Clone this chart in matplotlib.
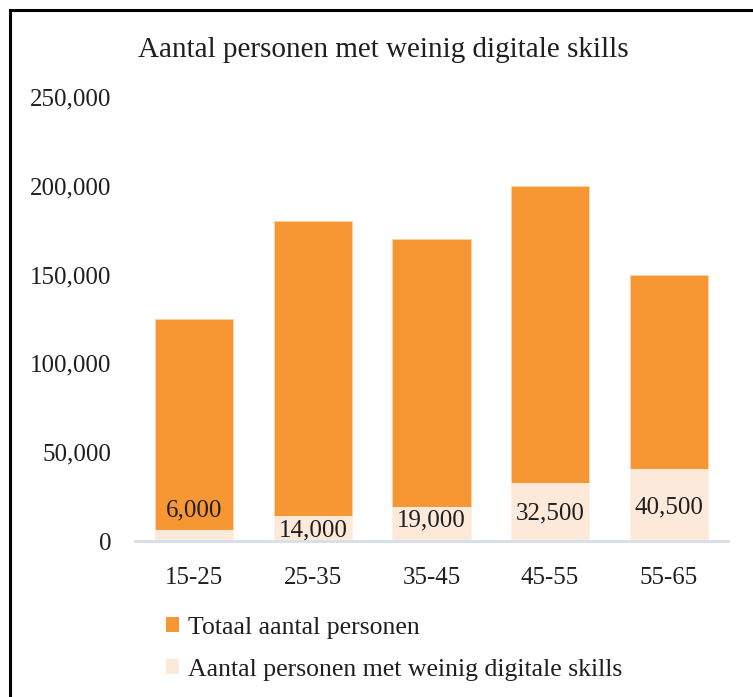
import matplotlib
matplotlib.use("Agg")
import matplotlib.pyplot as plt
from matplotlib.patches import Rectangle, Patch
from matplotlib.ticker import FuncFormatter

categories = ["15-25", "25-35", "35-45", "45-55", "55-65"]
totaal = [125000, 180000, 170000, 200000, 150000]
weinig = [6000, 14000, 19000, 32500, 40500]
yticks = [0, 50000, 100000, 150000, 200000, 250000]
title = "Aantal personen met weinig digitale skills"
legend_labels = ["Totaal aantal personen", "Aantal personen met weinig digitale skills"]

# label vertical positions (data units) as placed in the reference
label_y = [17400, 6200, 11800, 15700, 19100]

ORANGE = "#F79733"
LIGHT = "#FDE9D9"
FONT = "Liberation Serif"
TXT = "#1f1f1f"

plt.rcParams["font.family"] = [FONT, "DejaVu Serif"]

fig = plt.figure(figsize=(7.53, 6.97), dpi=100)
ax = fig.add_axes([135/753, 156/697, 593/753, 444/697])

x = range(len(categories))
ax.bar(x, totaal, width=0.66, color=ORANGE, edgecolor="#FBD3A8", linewidth=0.6, zorder=2)
ax.bar(x, weinig, width=0.66, color=LIGHT, edgecolor="#FFF4EC", linewidth=0.6, zorder=3)

for xi, v, ly in zip(x, weinig, label_y):
    ax.text(xi, ly, f"{v:,}", ha="center", va="center", fontsize=18, color=TXT, zorder=4)

ax.set_xlim(-0.5, 4.5)
ax.set_ylim(0, 250000)
ax.set_yticks(yticks)
ax.yaxis.set_major_formatter(FuncFormatter(lambda v, p: f"{int(v):,}"))
ax.set_xticks(list(x))
ax.set_xticklabels(categories)
ax.tick_params(axis="y", length=0, pad=17, labelsize=18, labelcolor=TXT)
ax.tick_params(axis="x", length=0, pad=19, labelsize=18, labelcolor=TXT)
for s in ["top", "right", "left"]:
    ax.spines[s].set_visible(False)
ax.spines["bottom"].set_color("#D5DFE8")
ax.spines["bottom"].set_linewidth(2)
ax.spines["bottom"].set_zorder(5)

fig.text(383/753, 1 - 50/697, title, ha="center", va="center", fontsize=21, color=TXT)

handles = [Patch(facecolor=ORANGE, edgecolor="none"), Patch(facecolor=LIGHT, edgecolor="none")]
fig.legend(handles, legend_labels, loc="upper left", bbox_to_anchor=(153/753, 1 - 604/697),
           frameon=False, fontsize=18.5, handlelength=0.5, handleheight=0.5,
           handletextpad=0.35, labelspacing=0.78, borderpad=0, labelcolor=TXT)

# outer frame (cropped on right and bottom)
fig.add_artist(Rectangle((10/753, -0.05), 1.1, 1 - 10/697 + 0.05, transform=fig.transFigure,
                         fill=False, edgecolor="black", linewidth=2.2))

fig.savefig("out.png", dpi=100, facecolor="white")
